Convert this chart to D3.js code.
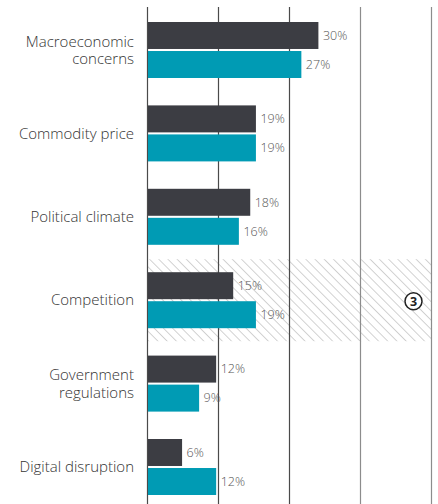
<!DOCTYPE html>
<html><head><meta charset="utf-8">
<script src="https://cdn.jsdelivr.net/npm/d3@7"></script>
<style>body{margin:0;background:#fff}svg{display:block;font-family:"Open Sans",sans-serif}</style>
</head><body><svg id="c" width="438" height="504"></svg>
<script>
const categories = ["Macroeconomic concerns","Commodity price","Political climate","Competition","Government regulations","Digital disruption"];
const labelLines = [["Macroeconomic","concerns"],["Commodity price"],["Political climate"],["Competition"],["Government","regulations"],["Digital disruption"]];
const series1 = [30,19,18,15,12,6];
const series2 = [27,19,16,19,9,12];
const gridTicks = [0,12.5,25,37.5,50];
const highlighted = "Competition";
const badge = "3";

const svg = d3.select("#c");
const x = d3.scaleLinear().domain([0,50]).range([147.5,431.5]);
const y = d3.scaleBand().domain(categories).range([8.3,508.7]).paddingInner(0.3285).paddingOuter(0.16425);
const ys = d3.scaleBand().domain([0,1]).range([0,y.bandwidth()]).paddingInner(0.07);
const colors = ["#3c3d43","#009bb4"];

const defs = svg.append("defs");
const pat = defs.append("pattern").attr("id","hatch").attr("patternUnits","userSpaceOnUse").attr("width",6.5).attr("height",6.5).attr("patternTransform","rotate(-45)");
pat.append("line").attr("x1",0).attr("y1",0).attr("x2",0).attr("y2",6.5).attr("stroke","#b4b4b4").attr("stroke-width",1.2);

// highlight band
const hy = y(highlighted);
svg.append("rect").attr("x",x(0)+0.5).attr("y",hy-13).attr("width",x(50)-x(0)).attr("height",y.bandwidth()+26).attr("fill","url(#hatch)");

// gridlines
svg.append("g").selectAll("line").data(gridTicks).join("line")
  .attr("x1",d=>x(d)).attr("x2",d=>x(d)).attr("y1",7).attr("y2",504)
  .attr("stroke",(d,i)=>i<3?"#4a4a4a":"#8c8c8c").attr("stroke-width",1.2);

// bars
const seriesData = [series1,series2];
const g = svg.append("g");
seriesData.forEach((s,si)=>{
  g.selectAll(".b"+si).data(categories).join("rect")
    .attr("x",x(0)+0.5).attr("y",c=>y(c)+ys(si)).attr("height",ys.bandwidth())
    .attr("width",(c,i)=>x(s[i])-x(0)).attr("fill",colors[si]);
  g.selectAll(".t"+si).data(categories).join("text")
    .attr("x",(c,i)=>x(s[i])+5).attr("y",c=>y(c)+ys(si)+ys.bandwidth()/2)
    .attr("dy","0.35em").attr("font-size",12.5).attr("font-weight",300).attr("fill","#555")
    .text((c,i)=>s[i]+"%");
});

// category labels
categories.forEach((c,i)=>{
  const lines = labelLines[i];
  const cy = y(c)+y.bandwidth()/2;
  const lh = 17.5;
  const t = svg.append("text").attr("text-anchor","end").attr("font-size",15).attr("font-weight",300).attr("fill","#333");
  lines.forEach((l,j)=>{
    t.append("tspan").attr("x",134).attr("y",cy+(j-(lines.length-1)/2)*lh).attr("dy","0.35em").text(l);
  });
});

// badge
const by = hy + y.bandwidth()/2 + 1;
svg.append("circle").attr("cx",413.5).attr("cy",by).attr("r",8.5).attr("fill","#fff").attr("stroke","#222").attr("stroke-width",1.5);
svg.append("text").attr("x",413.5).attr("y",by).attr("dy","0.36em").attr("text-anchor","middle").attr("font-size",12.5).attr("font-weight","bold").attr("fill","#222").text(badge);
</script></body></html>
